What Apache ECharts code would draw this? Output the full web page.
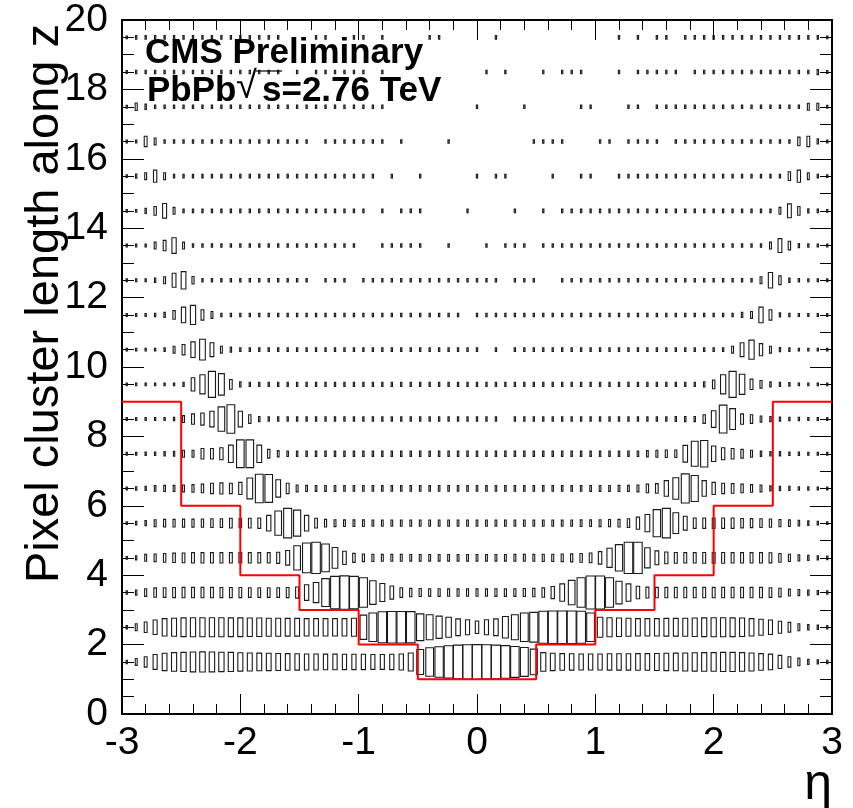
<!DOCTYPE html>
<html><head><meta charset="utf-8">
<script src="https://cdn.jsdelivr.net/npm/echarts@6/dist/echarts.min.js"></script>
<style>html,body{margin:0;padding:0;background:#fff}#c{width:853px;height:808px}</style>
</head><body><div id="c"></div>
<script>
// eta binning of the 2D histogram (75 bins from -3 to 3) and cluster-length rows
const etaMin = -3, etaMax = 3, nEta = 75;
const yRows = [1.5,2.5,3.5,4.5,5.5,6.5,7.5,8.5,9.5,10.5,11.5,12.5,13.5,14.5,15.5,16.5,17.5,18.5,19.5];
// relative cell content per eta bin (box scale in % of the largest cell), one array per cluster-length row
const r01 = [10,20,30,43,50,54,55,57,58,57,56,55,53,52,51,
  50,49,48,47,46,46,45,45,44,44,44,43,43,44,46,
  52,72,82,88,93,97,99,100,99,97,94,89,83,74,54,
  50,48,47,46,46,46,47,47,47,48,48,49,50,51,52,
  53,54,54,55,55,54,52,48,45,38,30,22,15,12,10];
const r02 = [10,20,30,42,50,52,54,55,55,55,55,54,54,53,53,
  52,52,51,51,50,50,50,50,50,52,70,82,89,91,91,
  90,77,72,64,58,48,43,36,43,48,62,72,82,86,92,
  94,94,94,92,82,58,55,53,52,50,50,50,51,51,52,
  53,54,55,55,54,53,50,46,42,35,28,20,15,12,10];
const r03 = [10,15,22,27,28,29,30,30,30,30,29,29,29,28,28,
  28,28,29,32,45,58,80,93,96,93,85,68,52,38,28,
  24,23,22,22,21,21,21,21,21,22,22,22,23,24,27,
  35,50,70,85,95,95,85,65,50,36,31,30,30,30,30,
  30,30,30,30,30,30,30,30,28,25,20,18,15,12,10];
const r04 = [8,12,20,22,25,27,28,30,30,30,30,30,30,30,30,
  30,32,42,70,86,90,80,60,38,26,22,21,20,20,20,
  19,19,19,19,19,19,19,19,19,19,19,20,20,20,21,
  21,22,23,25,28,36,55,76,90,90,58,40,34,31,30,
  30,31,31,31,30,30,30,30,29,25,21,18,15,12,10];
const r05 = [8,10,15,20,22,22,23,23,24,25,25,28,26,28,30,
  45,70,85,75,45,28,22,20,19,19,19,18,18,18,18,
  18,18,18,18,18,18,18,18,18,18,18,18,18,18,18,
  18,18,18,19,19,20,21,22,25,35,50,78,85,60,40,
  30,30,30,30,30,27,26,25,24,21,19,16,13,10,8];
const r06 = [8,10,12,16,18,18,20,22,25,30,32,30,35,60,82,
  80,50,30,20,18,17,17,17,16,16,16,16,16,16,16,
  16,16,16,16,16,16,16,16,16,16,16,16,16,16,16,
  16,16,16,16,17,17,17,18,18,20,25,28,45,62,84,
  75,45,35,30,28,25,22,20,15,13,12,10,10,8,8];
const r07 = [8,8,10,10,12,14,20,20,30,30,35,50,80,80,50,
  25,18,16,15,15,15,15,15,15,15,15,15,15,15,15,
  15,15,15,15,15,15,15,15,15,15,15,15,15,15,15,
  15,15,15,15,15,15,15,15,15,16,18,20,22,22,48,
  72,76,45,35,30,25,20,15,13,12,10,10,8,8,8];
const r08 = [8,8,8,8,8,10,20,30,35,45,70,82,45,25,15,
  13,13,13,13,13,13,13,13,13,13,13,13,13,13,13,
  13,13,13,13,13,13,13,13,13,13,0,13,13,13,13,
  13,13,13,13,13,13,13,13,13,13,13,13,13,14,15,
  15,25,48,80,60,30,25,18,15,12,10,10,8,8,8];
const r09 = [8,8,8,8,8,8,12,38,55,75,62,28,15,12,12,
  12,12,12,12,12,12,12,12,12,12,12,12,12,12,12,
  12,12,12,12,12,12,12,12,12,12,12,12,12,12,12,
  12,12,12,12,12,12,12,12,12,12,12,12,12,12,12,
  12,15,25,55,75,58,30,22,15,12,10,8,8,8,8];
const r10 = [8,8,8,8,10,20,30,45,60,40,20,15,11,11,11,
  11,11,11,11,11,11,11,11,11,11,11,11,11,11,11,
  11,11,11,11,11,11,11,11,0,11,0,11,11,11,11,
  11,11,11,11,11,11,11,11,11,11,11,11,11,11,11,
  11,11,11,11,20,40,55,35,20,12,10,8,8,8,8];
const r11 = [8,8,8,10,15,25,45,55,30,20,10,10,10,10,10,
  10,10,10,10,10,10,10,10,10,10,10,10,10,10,10,
  10,10,10,10,10,10,0,10,10,10,10,10,10,10,10,
  10,10,10,10,10,10,10,10,10,10,10,10,10,10,10,
  10,10,10,10,10,15,20,45,30,12,10,8,8,8,8];
const r12 = [8,8,8,12,20,40,50,22,10,10,10,10,10,10,10,
  10,10,10,10,10,0,10,10,10,0,10,10,10,10,10,
  10,10,10,10,10,10,10,10,10,10,0,10,10,10,0,
  0,10,10,10,10,10,10,10,10,10,10,10,10,10,10,
  10,10,10,10,10,10,10,20,45,25,12,10,8,8,8];
const r13 = [8,8,8,20,30,45,20,10,10,10,10,10,10,10,10,
  10,10,10,10,10,10,10,10,10,10,0,0,10,10,10,
  10,10,0,0,10,0,0,0,10,0,10,10,10,0,10,
  10,10,10,10,10,10,10,10,10,10,10,10,10,10,10,
  10,10,10,10,10,10,10,10,20,40,25,12,10,8,8];
const r14 = [8,8,15,25,42,20,10,10,10,10,10,10,10,10,10,
  10,10,10,10,10,10,10,10,10,10,10,0,10,0,10,
  10,10,0,0,0,0,10,0,0,0,0,10,0,0,10,
  0,10,10,10,10,10,10,10,10,10,10,10,10,10,10,
  10,10,10,10,10,10,10,10,10,20,40,25,12,10,8];
const r15 = [8,12,20,35,20,10,10,10,10,10,10,10,10,10,10,
  10,10,10,10,10,10,10,10,10,10,10,10,0,10,0,
  0,10,0,0,0,0,0,10,0,10,10,0,0,0,0,
  10,0,0,10,10,0,0,10,10,10,10,10,10,10,10,
  10,10,10,10,10,10,10,10,10,10,25,35,20,10,8];
const r16 = [8,8,30,20,10,10,10,10,10,10,10,10,10,10,10,
  10,10,10,10,10,0,10,10,10,10,10,10,10,0,10,
  0,0,0,0,10,0,0,0,0,0,0,0,0,10,10,
  10,10,0,0,0,10,10,0,10,10,10,10,0,10,10,
  10,10,10,10,10,10,10,10,10,10,10,25,30,15,8];
const r17 = [8,22,15,10,10,10,10,10,10,10,10,10,10,10,10,
  10,10,10,10,10,10,10,10,10,10,10,10,10,0,0,
  0,0,0,0,0,0,0,10,0,0,0,0,10,0,0,
  0,0,0,10,10,0,0,0,10,10,0,10,10,10,10,
  10,10,10,10,10,10,10,10,10,10,10,10,20,20,8];
const r18 = [8,10,10,10,10,10,10,10,10,10,10,10,10,10,10,
  10,10,0,10,0,10,10,10,10,10,10,0,10,0,0,
  0,0,0,0,0,0,0,0,10,0,10,0,0,0,10,
  0,10,10,10,0,0,0,10,0,10,10,10,10,10,0,
  10,10,10,10,10,10,10,10,10,10,10,10,10,15,8];
const r19 = [8,10,10,10,10,10,10,10,10,10,10,10,10,10,10,
  10,10,0,0,0,10,10,0,0,10,10,0,10,0,0,
  0,0,10,10,0,0,0,0,0,10,0,0,0,0,0,
  0,0,0,0,0,0,0,10,0,10,0,10,10,0,10,
  10,10,10,10,10,10,10,10,10,10,10,10,10,10,8];
const rows = [r01,r02,r03,r04,r05,r06,r07,r08,r09,r10,r11,r12,r13,r14,r15,r16,r17,r18,r19];

// red step line: eta edges and cluster-length cut levels
const stepEdges  = [-3,-2.5,-2,-1.5,-1,-0.5,0.5,1,1.5,2,2.5,3];
const stepLevels = [9,6,4,3,2,1,2,3,4,6,9];

const binW = (etaMax - etaMin) / nEta;
const boxData = [];
rows.forEach(function (row, j) {
  row.forEach(function (v, i) {
    if (v > 0) boxData.push([etaMin + (i + 0.5) * binW, yRows[j], v]);
  });
});
const stepData = stepEdges.map(function (e, i) {
  return [e, stepLevels[Math.min(i, stepLevels.length - 1)]];
});

function renderBox(params, api) {
  const c = api.coord([api.value(0), api.value(1)]);
  const s = api.size([binW, 1]);
  const f = api.value(2) / 100;
  const w = Math.max(s[0] * f, 1.3), h = Math.max(s[1] * f, 2.2);
  return {
    type: 'rect',
    shape: { x: c[0] - w / 2, y: c[1] - h / 2, width: w, height: h },
    style: { fill: 'none', stroke: '#1a1a1a', lineWidth: 1.1 }
  };
}

const FONT = 'Liberation Sans, Arial, Helvetica, sans-serif';
function xAx(pos, labels) {
  return {
    type: 'value', min: etaMin, max: etaMax, interval: 1, position: pos,
    axisLine: { show: true, onZero: false, lineStyle: { color: '#000', width: 2 } },
    axisTick: { show: true, inside: true, length: 20, lineStyle: { color: '#000', width: 1 } },
    minorTick: { show: true, splitNumber: 5, length: 10, lineStyle: { color: '#000', width: 1 } },
    splitLine: { show: false }, minorSplitLine: { show: false },
    axisLabel: { show: labels, fontSize: 39, color: '#000', fontFamily: FONT, margin: 10 }
  };
}
function yAx(pos, labels) {
  return {
    type: 'value', min: 0, max: 20, interval: 2, position: pos,
    axisLine: { show: true, onZero: false, lineStyle: { color: '#000', width: 2 } },
    axisTick: { show: true, inside: true, length: 22, lineStyle: { color: '#000', width: 1 } },
    minorTick: { show: true, splitNumber: 4, length: 12, lineStyle: { color: '#000', width: 1 } },
    splitLine: { show: false }, minorSplitLine: { show: false },
    axisLabel: { show: labels, fontSize: 39, color: '#000', fontFamily: FONT, margin: 14 }
  };
}

const chart = echarts.init(document.getElementById('c'), null, { renderer: 'canvas' });
chart.setOption({
  animation: false,
  backgroundColor: '#fff',
  grid: { left: 122, right: 21, top: 20, bottom: 94, containLabel: false },
  xAxis: [xAx('bottom', true), xAx('top', false)],
  yAxis: [yAx('left', true), yAx('right', false)],
  series: [
    { type: 'custom', renderItem: renderBox, data: boxData, encode: { x: 0, y: 1 }, z: 2, silent: true },
    { type: 'line', data: stepData, step: 'end', symbol: 'none', z: 3, silent: true,
      lineStyle: { color: '#ff0000', width: 2 } }
  ],
  graphic: [
    { type: 'text', x: 145, y: 53, z: 10,
      style: { text: 'CMS Preliminary', font: 'bold 35px ' + FONT, fill: '#000', textVerticalAlign: 'middle' } },
    { type: 'text', x: 147, y: 91, z: 10,
      style: { text: 'PbPb', font: 'bold 35px ' + FONT, fill: '#000', textVerticalAlign: 'middle' } },
    { type: 'text', x: 236, y: 88, z: 10,
      style: { text: '\u221A', font: '38px ' + FONT, fill: '#000', textVerticalAlign: 'middle' } },
    { type: 'line', z: 10, shape: { x1: 256, y1: 71, x2: 282, y2: 71 }, style: { stroke: '#000', lineWidth: 1.2 } },
    { type: 'text', x: 262, y: 91, z: 10,
      style: { text: 's=2.76 TeV', font: 'bold 35px ' + FONT, fill: '#000', textVerticalAlign: 'middle' } },
    { type: 'text', x: 45, y: 24, rotation: Math.PI / 2, z: 10,
      style: { text: 'Pixel cluster length along z', font: '47px ' + FONT, fill: '#000', textAlign: 'right', textVerticalAlign: 'middle' } },
    { type: 'text', x: 832, y: 785, z: 10,
      style: { text: '\u03B7', font: '50px ' + FONT, fill: '#000', textAlign: 'right', textVerticalAlign: 'middle' } }
  ]
});
</script>
</body></html>
